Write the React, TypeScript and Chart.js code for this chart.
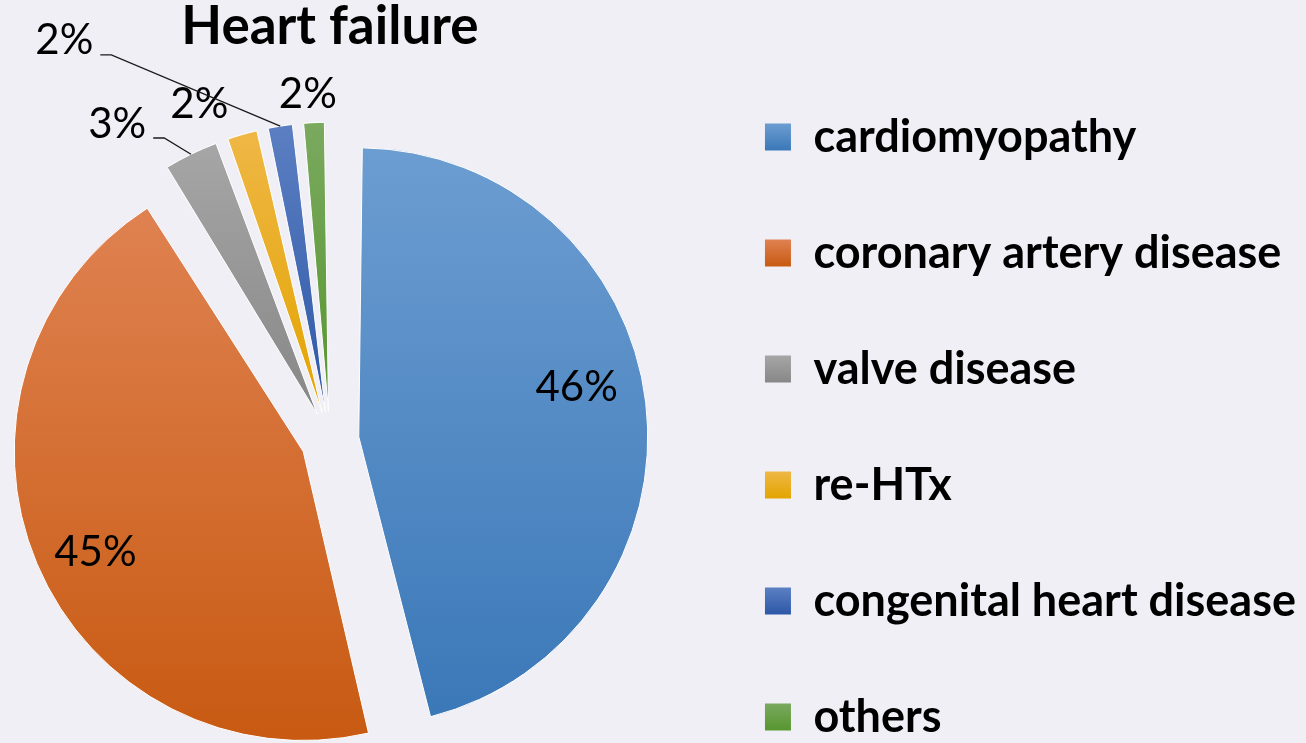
import React, { useEffect, useRef } from 'react';
import { Chart, registerables } from 'chart.js';

Chart.register(...registerables);

// ---- data ----
const categories = [
  'cardiomyopathy',
  'coronary artery disease',
  'valve disease',
  're-HTx',
  'congenital heart disease',
  'others',
];
const shares = [46.2, 44.9, 3.4, 2.1, 1.8, 1.6];
const chartTitle = 'Heart failure';

// ---- styles ----
const colorsTop = ['#6c9dd1', '#df8251', '#a6a6a6', '#efb746', '#5c7fc2', '#7aa95f'];
const colorsBottom = ['#3b78b8', '#c85a12', '#878787', '#e3a400', '#2d58a7', '#57962f'];
const labelAngleShift = [-5, -3, -8.1, -5.3, -24.7, -0.8]; // degrees, relative to slice middle
const labelRadius = [0.872, 0.902, 1.316, 1.243, 1.657, 1.194]; // fraction of pie radius
const hasLeader = [false, false, true, false, true, false];
const FONT = 'Lato, "Open Sans", "Noto Sans", sans-serif';

// canvas geometry (canvas is shifted left and extends below the window)
const SHIFT_X = -34;
const CANVAS_W = 1306 - SHIFT_X;
const CANVAS_H = 837;
const LEGEND_LEFT = 731; // in canvas coordinates
const LEGEND_FONT = 45;
const LEGEND_PAD = 71;
const BOX_W = 26;

const pieStyler = {
  id: 'pieStyler',
  beforeDraw(chart: any) {
    const legend = chart.legend;
    if (!legend || !legend.legendItems) return;
    const ctx = chart.ctx;
    const lab = legend.options.labels;
    const fs = lab.font.size || LEGEND_FONT;
    const bh = lab.boxHeight;
    legend.legendItems.forEach((item: any, i: number) => {
      const hb = legend.legendHitBoxes[i];
      if (!hb) return;
      const top = hb.top + Math.max((fs - bh) / 2, 0);
      const idx = item.index ?? i;
      const g = ctx.createLinearGradient(0, top, 0, top + bh);
      g.addColorStop(0, colorsTop[idx]);
      g.addColorStop(1, colorsBottom[idx]);
      item.fillStyle = g;
      item.lineWidth = 0;
      item.strokeStyle = 'rgba(0,0,0,0)';
    });
  },
  beforeDatasetsDraw(chart: any) {
    const meta = chart.getDatasetMeta(0);
    const ctrl: any = meta.controller;
    const ctx = chart.ctx;
    const R = ctrl.outerRadius;
    meta.data.forEach((arc: any, i: number) => {
      const off = (arc.options.offset || 0) / 4;
      const fix = 1 - Math.sin(Math.min(Math.PI, arc.circumference || 0));
      arc.outerRadius = R - off * fix;
      let top = arc.y;
      let bottom = arc.y;
      const n = 90;
      for (let k = 0; k <= n; k++) {
        const a = arc.startAngle + ((arc.endAngle - arc.startAngle) * k) / n;
        const yy = arc.y + R * Math.sin(a);
        if (yy < top) top = yy;
        if (yy > bottom) bottom = yy;
      }
      const g = ctx.createLinearGradient(0, top, 0, bottom);
      g.addColorStop(0, colorsTop[i]);
      g.addColorStop(1, colorsBottom[i]);
      arc.options.backgroundColor = g;
    });
  },
  afterDatasetsDraw(chart: any) {
    const meta = chart.getDatasetMeta(0);
    const ctrl: any = meta.controller;
    const R = ctrl.outerRadius;
    const ctx = chart.ctx;
    const data = chart.data.datasets[0].data as number[];
    const total = data.reduce((a, b) => a + b, 0);
    ctx.save();
    ctx.font = `42px ${FONT}`;
    ctx.fillStyle = '#000';
    ctx.strokeStyle = '#1a1a1a';
    ctx.lineWidth = 1.3;
    ctx.textAlign = 'center';
    ctx.textBaseline = 'middle';
    meta.data.forEach((arc: any, i: number) => {
      const mid = (arc.startAngle + arc.endAngle) / 2;
      const a = mid + (labelAngleShift[i] * Math.PI) / 180;
      const r = labelRadius[i] * R;
      const lx = arc.x + r * Math.cos(a);
      const ly = arc.y + r * Math.sin(a) - 1;
      const text = Math.round((data[i] / total) * 100) + '%';
      ctx.fillText(text, lx, ly);
      if (hasLeader[i]) {
        const w = ctx.measureText(text).width;
        const sx = lx + w / 2 + 7;
        const sy = ly + 14;
        const t = (arc.options.offset || 0) / 4;
        const ex = arc.x + (R + t) * Math.cos(mid);
        const ey = arc.y + (R + t) * Math.sin(mid);
        ctx.beginPath();
        ctx.moveTo(sx, sy);
        ctx.lineTo(sx + 11, sy);
        ctx.lineTo(ex, ey);
        ctx.stroke();
      }
    });
    ctx.restore();
  },
};

export default function App() {
  const ref = useRef<HTMLCanvasElement | null>(null);

  useEffect(() => {
    if (!ref.current) return;
    // measure widest legend text so the legend box lands where wanted
    const mctx = document.createElement('canvas').getContext('2d') as CanvasRenderingContext2D;
    mctx.font = `bold ${LEGEND_FONT}px ${FONT}`;
    const wMax = Math.max(...categories.map((c) => mctx.measureText(c).width));
    const legendWidth = LEGEND_PAD + BOX_W + LEGEND_FONT / 2 + wMax + 10;
    const padRight = Math.max(CANVAS_W - LEGEND_LEFT - legendWidth, 0);

    const chart = new Chart(ref.current, {
      type: 'pie',
      data: {
        labels: categories,
        datasets: [
          {
            data: shares,
            backgroundColor: colorsBottom,
            borderColor: '#ffffff',
            borderWidth: 1,
            offset: 116,
            hoverOffset: 0,
          } as any,
        ],
      },
      options: {
        animation: false,
        responsive: true,
        maintainAspectRatio: false,
        events: [],
        radius: 289,
        layout: { padding: { left: 0, right: padRight, top: 0, bottom: 0 } },
        plugins: {
          tooltip: { enabled: false },
          title: {
            display: true,
            text: chartTitle,
            fullSize: false,
            color: '#000',
            font: { family: FONT, size: 53, weight: 'bold', lineHeight: 1 },
            padding: { top: 0.5, bottom: -10 },
          },
          legend: {
            display: true,
            position: 'right',
            align: 'start',
            fullSize: false,
            labels: {
              boxWidth: BOX_W,
              boxHeight: 27,
              padding: LEGEND_PAD,
              color: '#000',
              font: { family: FONT, size: LEGEND_FONT, weight: 'bold' },
            },
          },
        },
      } as any,
      plugins: [pieStyler],
    });
    return () => chart.destroy();
  }, []);

  return (
    <div
      style={{
        position: 'fixed',
        left: 0,
        top: 0,
        width: 1306,
        height: 743,
        overflow: 'hidden',
        background: '#f1eff6',
      }}
    >
      <div
        style={{
          position: 'absolute',
          left: SHIFT_X,
          top: 0,
          width: CANVAS_W,
          height: CANVAS_H,
        }}
      >
        <canvas ref={ref} style={{ display: 'block' }} />
      </div>
    </div>
  );
}
